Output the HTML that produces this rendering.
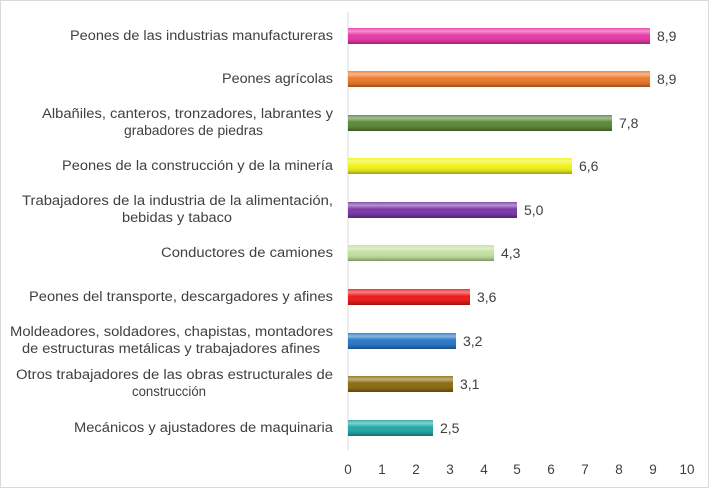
<!DOCTYPE html>
<html><head><meta charset="utf-8"><style>
body{margin:0;background:#fff;}
svg{display:block;font-family:"Liberation Sans",sans-serif;}
</style></head><body>
<svg width="715" height="495" viewBox="0 0 715 495">
<defs>
<linearGradient id="sh" x1="0" y1="0" x2="0" y2="1">
<stop offset="0" stop-color="#fff" stop-opacity="0.1"/>
<stop offset="0.2" stop-color="#fff" stop-opacity="0.45"/>
<stop offset="0.45" stop-color="#fff" stop-opacity="0"/>
<stop offset="0.8" stop-color="#000" stop-opacity="0.1"/>
<stop offset="1" stop-color="#000" stop-opacity="0.35"/>
</linearGradient>
</defs>
<rect x="0.5" y="0.5" width="708" height="487" fill="#fff" stroke="#d9d9d9"/>
<line x1="348" y1="12" x2="348" y2="450" stroke="#d9d9d9"/>
<g font-size="13.5" fill="#404040" text-anchor="middle">
<text x="348" y="474">0</text><text x="382" y="474">1</text><text x="416" y="474">2</text><text x="450" y="474">3</text><text x="484" y="474">4</text><text x="517" y="474">5</text><text x="551" y="474">6</text><text x="585" y="474">7</text><text x="619" y="474">8</text><text x="653" y="474">9</text><text x="687" y="474">10</text>
</g>
<g font-size="13.5" fill="#404040">
<text x="70" y="40" textLength="263" lengthAdjust="spacingAndGlyphs">Peones de las industrias manufactureras</text>
<text x="222" y="83" textLength="111" lengthAdjust="spacingAndGlyphs">Peones agrícolas</text>
<text x="42" y="118" textLength="291" lengthAdjust="spacingAndGlyphs">Albañiles, canteros, tronzadores, labrantes y</text>
<text x="124" y="135" textLength="139" lengthAdjust="spacingAndGlyphs">grabadores de piedras</text>
<text x="62" y="170" textLength="271" lengthAdjust="spacingAndGlyphs">Peones de la construcción y de la minería</text>
<text x="22" y="205" textLength="311" lengthAdjust="spacingAndGlyphs">Trabajadores de la industria de la alimentación,</text>
<text x="122" y="222" textLength="110" lengthAdjust="spacingAndGlyphs">bebidas y tabaco</text>
<text x="161" y="257" textLength="172" lengthAdjust="spacingAndGlyphs">Conductores de camiones</text>
<text x="29" y="301" textLength="304" lengthAdjust="spacingAndGlyphs">Peones del transporte, descargadores y afines</text>
<text x="10" y="336" textLength="323" lengthAdjust="spacingAndGlyphs">Moldeadores, soldadores, chapistas, montadores</text>
<text x="22" y="353" textLength="298" lengthAdjust="spacingAndGlyphs">de estructuras metálicas y trabajadores afines</text>
<text x="16" y="379" textLength="317" lengthAdjust="spacingAndGlyphs">Otros trabajadores de las obras estructurales de</text>
<text x="132" y="396" textLength="74" lengthAdjust="spacingAndGlyphs">construcción</text>
<text x="74" y="432" textLength="259" lengthAdjust="spacingAndGlyphs">Mecánicos y ajustadores de maquinaria</text>
</g>
<g>
<rect x="348" y="28" width="302" height="16" fill="#e83aa8"/><rect x="348" y="28" width="302" height="16" fill="url(#sh)"/>
<rect x="348" y="71" width="302" height="16" fill="#ec7a2c"/><rect x="348" y="71" width="302" height="16" fill="url(#sh)"/>
<rect x="348" y="115" width="264" height="16" fill="#5d8a3a"/><rect x="348" y="115" width="264" height="16" fill="url(#sh)"/>
<rect x="348" y="158" width="224" height="16" fill="#f2f21c"/><rect x="348" y="158" width="224" height="16" fill="url(#sh)"/>
<rect x="348" y="202" width="169" height="16" fill="#7a3aa8"/><rect x="348" y="202" width="169" height="16" fill="url(#sh)"/>
<rect x="348" y="245" width="146" height="16" fill="#c3e0a0"/><rect x="348" y="245" width="146" height="16" fill="url(#sh)"/>
<rect x="348" y="289" width="122" height="16" fill="#ee1c1c"/><rect x="348" y="289" width="122" height="16" fill="url(#sh)"/>
<rect x="348" y="333" width="108" height="16" fill="#2a78c8"/><rect x="348" y="333" width="108" height="16" fill="url(#sh)"/>
<rect x="348" y="376" width="105" height="16" fill="#8c6e12"/><rect x="348" y="376" width="105" height="16" fill="url(#sh)"/>
<rect x="348" y="420" width="85" height="16" fill="#23a8a8"/><rect x="348" y="420" width="85" height="16" fill="url(#sh)"/>
</g>
<g font-size="14" fill="#404040">
<text x="657" y="41">8,9</text>
<text x="657" y="84">8,9</text>
<text x="619" y="128">7,8</text>
<text x="579" y="171">6,6</text>
<text x="524" y="215">5,0</text>
<text x="501" y="258">4,3</text>
<text x="477" y="302">3,6</text>
<text x="463" y="346">3,2</text>
<text x="460" y="389">3,1</text>
<text x="440" y="433">2,5</text>
</g>
</svg>
</body></html>
